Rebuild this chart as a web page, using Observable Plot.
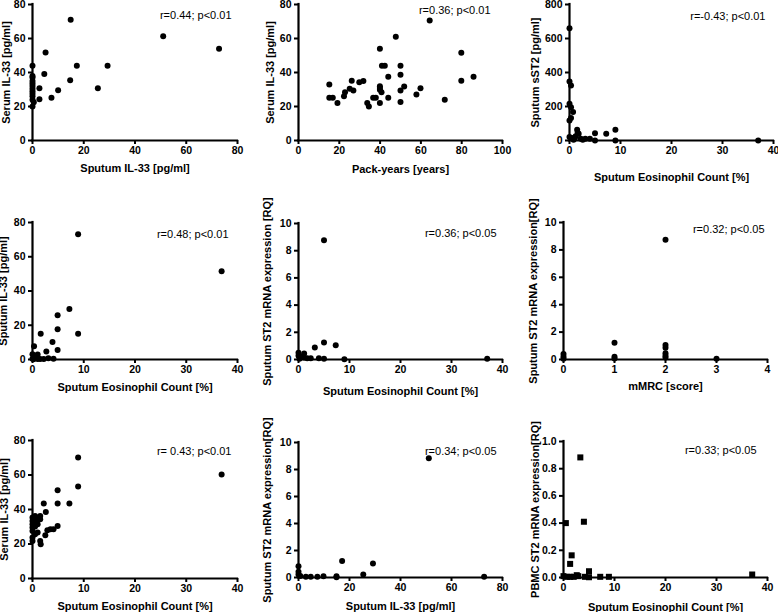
<!DOCTYPE html>
<html><head><meta charset="utf-8">
<script src="https://cdn.jsdelivr.net/npm/d3@7"></script>
<script src="https://cdn.jsdelivr.net/npm/@observablehq/plot@0.6"></script>
<style>
body{margin:0;background:#fff;}
#chart{position:relative;width:778px;height:612px;overflow:hidden;background:#fff;}
#chart svg{position:absolute;left:0;top:0;}
</style></head><body><div id="chart"></div>
<script>
// ---- Data ----
// Panel 1: Sputum IL-33 vs Serum IL-33
const p1X = [14.9, 51.0, 72.8, 5.1, 0, 17.3, 29.3, 4.6, 14.7, 2.7, 10.0, 25.5, 2.7, 7.4, 0, 0, 0, 0, 0, 0, 0, 0, 0, 0, 0, 0.5];
const p1Y = [71.0, 61.3, 54.0, 51.7, 44.0, 44.0, 44.0, 39.1, 35.4, 30.7, 29.5, 30.7, 24.3, 25.2, 38, 37, 35, 33.5, 32, 30.5, 29, 27.5, 26, 24, 20, 22.5];
// Panel 2: Pack-years vs Serum IL-33
const p2X = [64.3, 47.7, 39.9, 79.8, 40.9, 42.3, 50, 50, 44, 85.8, 79.8, 26.1, 29.8, 31.8, 15.1, 39.9, 39.9, 39.9, 40.7, 51.8, 59.8, 50, 25.1, 26.9, 22.8, 22.3, 57.8, 15.1, 16.8, 36.6, 37.9, 44, 19.1, 33.7, 34.5, 39.9, 50, 71.7];
const p2Y = [70.6, 61.1, 53.9, 51.6, 44, 44, 44, 38.7, 37.5, 37.5, 35.2, 35.2, 34.2, 35.0, 32.9, 31.9, 30.9, 29.8, 28.4, 31.7, 30.7, 29.4, 30.5, 29.4, 28.4, 26.1, 27.0, 25.1, 25.1, 25.1, 25.1, 25.1, 22, 22, 20, 22, 22.6, 23.9];
// Panel 3: Sputum Eosinophil Count vs Sputum sST2
const p3X = [0, 0, 0.3, 0, 0.3, 0.7, 0, 0.3, 1.5, 1.8, 9, 7.2, 5, 4.0, 3.1, 5, 9, 37, 0, 0.5, 1, 2.2, 2.6, 1.2, 0.8, 1.6];
const p3Y = [660, 347, 323, 216, 196, 167, 118, 133, 63, 39, 63, 39, 43, 10, 10, 0, 0, 0, 20, 15, 12, 10, 4, 25, 5, 45];
// Panel 4: Sputum Eosinophil Count vs Sputum IL-33
const p4X = [8.9, 36.9, 7.2, 4.9, 4.9, 1.6, 8.9, 3.9, 4.9, 2.7, 0.3, 0, 1.0, 4.1, 3.1, 0, 0.5, 1.0, 1.5, 2.2, 0.2];
const p4Y = [73.2, 51.5, 29.5, 25.8, 17.6, 15.1, 15.1, 10.2, 5.5, 4.7, 7.8, 3.1, 2.9, 0.4, 0.8, 0.5, 1, 0.3, 0.3, 0.3, 0.2];
// Panel 5: Sputum Eosinophil Count vs Sputum ST2 mRNA
const p5X = [5.0, 5.0, 7.3, 3.2, 1.1, 0, 0, 0.5, 1.1, 1.7, 2.4, 4.0, 5, 9, 37, 0.2];
const p5Y = [8.77, 1.25, 1.05, 0.88, 0.44, 0.5, 0.27, 0.2, 0.15, 0.1, 0.1, 0.1, 0.05, 0.02, 0.05, 0.05];
// Panel 6: mMRC vs Sputum ST2 mRNA
const p6X = [2, 1, 2, 2, 2, 2, 2, 1, 1, 0, 0, 0, 3];
const p6Y = [8.75, 1.22, 1.05, 0.85, 0.45, 0.27, 0.15, 0.2, 0.07, 0.4, 0.2, 0.05, 0.05];
// Panel 7: Sputum Eosinophil Count vs Serum IL-33
const p7X = [8.9, 36.9, 8.9, 4.9, 2.2, 4.9, 7.2, 2.6, 4.9, 4.1, 3.5, 2.9, 2.5, 1.5, 1.5, 1.0, 1.5, 1.6, 0, 0, 0, 0, 0, 0, 0, 0.5, 0.5, 0.5, 0.5, 1.0, 1.0];
const p7Y = [70.1, 60.3, 53.3, 51.2, 43.5, 43.5, 43.5, 38.6, 30.5, 28.6, 28.6, 28, 25.1, 36.3, 34.4, 26.7, 21.8, 19.9, 35.4, 33.4, 31.5, 29.6, 27.6, 23.8, 21.8, 36.3, 32.5, 30.1, 25.7, 34.4, 31.5];
// Panel 8: Sputum IL-33 vs Sputum ST2 mRNA
const p8X = [51.1, 17.1, 29.2, 25.4, 0, 0, 0, 0.7, 2.9, 4.8, 7.4, 9.8, 14.9, 14.9, 72.8];
const p8Y = [8.84, 1.23, 1.03, 0.22, 0.84, 0.42, 0.22, 0.12, 0.05, 0.05, 0.05, 0.1, 0.1, 0.02, 0.05];
// Panel 9: Sputum Eosinophil Count vs PBMC ST2 mRNA
const p9X = [3.3, 4.0, 0.46, 1.6, 1.3, 5.0, 2.6, 37, 8.9, 7.2, 4.2, 0, 0.7, 1.3, 2.0, 2.9, 5.0];
const p9Y = [0.883, 0.41, 0.40, 0.163, 0.10, 0.046, 0.017, 0.022, 0.005, 0.005, 0.005, 0.01, 0.005, 0.005, 0.005, 0.01, 0.002];

// Tick values
const ticks0to80 = [0, 20, 40, 60, 80];
const ticks0to100 = [0, 20, 40, 60, 80, 100];
const ticks0to40 = [0, 10, 20, 30, 40];
const ticks0to800 = [0, 200, 400, 600, 800];
const ticks0to10 = [0, 2, 4, 6, 8, 10];
const ticks0to4 = [0, 1, 2, 3, 4];
const ticks0to1 = [0, 0.2, 0.4, 0.6, 0.8, 1.0];

// Labels and annotations
const xLabels = ["Sputum IL-33 [pg/ml]", "Pack-years [years]", "Sputum Eosinophil Count [%]",
  "Sputum Eosinophil Count [%]", "Sputum Eosinophil Count [%]", "mMRC [score]",
  "Sputum Eosinophil Count [%]", "Sputum IL-33 [pg/ml]", "Sputum Eosinophil Count [%]"];
const yLabels = ["Serum IL-33 [pg/ml]", "Serum IL-33 [pg/ml]", "Sputum sST2 [pg/ml]",
  "Sputum IL-33 [pg/ml]", "Sputum ST2 mRNA expression [RQ]", "Sputum ST2 mRNA expression[RQ]",
  "Serum IL-33 [pg/ml]", "Sputum ST2 mRNA expression[RQ]", "PBMC ST2 mRNA expression[RQ]"];
const annotations = ["r=0.44; p<0.01", "r=0.36; p<0.01", "r=-0.43; p<0.01",
  "r=0.48; p<0.01", "r=0.36; p<0.05", "r=0.32; p<0.05",
  "r= 0.43; p<0.01", "r=0.34; p<0.05", "r=0.33; p<0.05"];

// ---- Layout (frame positions in page pixels) ----
const panels = [
  {xs: p1X, ys: p1Y, xt: ticks0to80, yt: ticks0to80, f: [32, 237, 4, 140], ann: [-6, 10.5], xl: 28, yl: 26},
  {xs: p2X, ys: p2Y, xt: ticks0to100, yt: ticks0to80, f: [298, 502, 4, 140], ann: [-12, 6], xl: 29, yl: 28},
  {xs: p3X, ys: p3Y, xt: ticks0to40, yt: ticks0to800, f: [569, 773, 4, 140], ann: [-8, 12], xl: 37, yl: 34},
  {xs: p4X, ys: p4Y, xt: ticks0to40, yt: ticks0to80, f: [32, 237, 222, 359], ann: [-9, 12], xl: 28, yl: 29},
  {xs: p5X, ys: p5Y, xt: ticks0to40, yt: ticks0to10, f: [298, 502, 223, 359], ann: [-6, 10], xl: 32, yl: 31},
  {xs: p6X, ys: p6Y, xt: ticks0to4, yt: ticks0to10, f: [563, 767, 222, 359], ann: [-3, 7], xl: 27, yl: 30},
  {xs: p7X, ys: p7Y, xt: ticks0to40, yt: ticks0to80, f: [32, 237, 440, 578], ann: [-6, 11], xl: 28, yl: 28},
  {xs: p8X, ys: p8Y, xt: ticks0to80, yt: ticks0to10, f: [298, 502, 442, 577], ann: [-6, 9], xl: 29, yl: 31},
  {xs: p9X, ys: p9Y, xt: ticks0to40, yt: ticks0to1, f: [563, 767, 441, 577], ann: [-11, 9], xl: 30, yl: 28, square: true, yfmt: ".1f"}
];

const W = 778, H = 612;
const font = "'Liberation Sans', Arial, Helvetica, sans-serif";
const chart = document.getElementById("chart");

panels.forEach((p, i) => {
  const data = p.xs.map((x, k) => ({x, y: p.ys[k]}));
  const [x0, x1, y0, y1] = p.f;
  const svg = Plot.plot({
    width: W, height: H,
    marginLeft: x0, marginRight: W - x1, marginTop: y0, marginBottom: H - y1,
    style: {background: "transparent", overflow: "visible", fontFamily: font, fontSize: "10px", fontWeight: "bold", color: "black"},
    x: {domain: [p.xt[0], p.xt[p.xt.length - 1]]},
    y: {domain: [p.yt[0], p.yt[p.yt.length - 1]]},
    marks: [
      Plot.axisX(p.xt, {tickSize: 4, tickPadding: 2, strokeWidth: 2, label: null, fontWeight: "bold", fontSize: 10.5}),
      Plot.axisY(p.yt, {tickSize: 4, tickPadding: 3, strokeWidth: 2, label: null, fontWeight: "bold", fontSize: 10.5, tickFormat: p.yfmt ? d3.format(p.yfmt) : undefined}),
      Plot.ruleX([p.xt[0]], {strokeWidth: 2.2, strokeLinecap: "square"}),
      Plot.ruleY([p.yt[0]], {strokeWidth: 2.2, strokeLinecap: "square"}),
      Plot.dot(data, {x: "x", y: "y", r: p.square ? 3.4 : 3, symbol: p.square ? "square" : "circle", fill: "black", stroke: null}),
      Plot.text([annotations[i]], {text: d => d, frameAnchor: "top-right", textAnchor: "end", lineAnchor: "middle", dx: p.ann[0], dy: p.ann[1], fontWeight: "normal", fontSize: 11}),
      Plot.text([xLabels[i]], {text: d => d, frameAnchor: "bottom", lineAnchor: "middle", dy: p.xl, fontWeight: "bold", fontSize: 11}),
      Plot.text([yLabels[i]], {text: d => d, frameAnchor: "left", rotate: -90, lineAnchor: "middle", textAnchor: "middle", dx: -p.yl, fontWeight: "bold", fontSize: 11})
    ]
  });
  chart.appendChild(svg);
});
</script>
</body></html>
